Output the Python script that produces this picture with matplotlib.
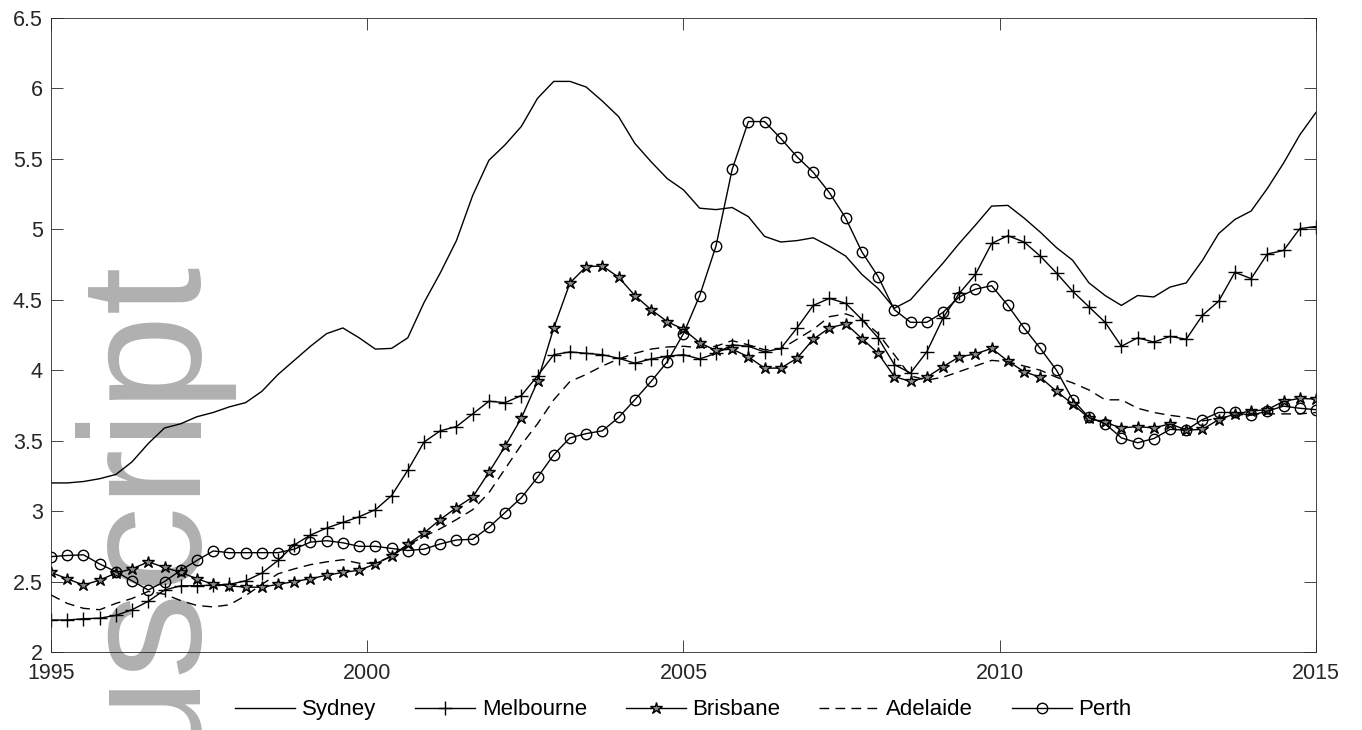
import numpy as np
import matplotlib
matplotlib.use("Agg")
import matplotlib.pyplot as plt

# Price-to-income style ratios by capital city, quarterly 1995-2015
cities = ["Sydney", "Melbourne", "Brisbane", "Adelaide", "Perth"]

sydney = [3.20, 3.20, 3.21, 3.23, 3.26, 3.35, 3.48, 3.59, 3.62, 3.67,
          3.70, 3.74, 3.77, 3.85, 3.97, 4.07, 4.17, 4.26, 4.30, 4.23,
          4.15, 4.155, 4.23, 4.48, 4.69, 4.92, 5.24, 5.49, 5.60, 5.73,
          5.93, 6.05, 6.05, 6.01, 5.91, 5.80, 5.61, 5.48, 5.36, 5.28,
          5.15, 5.14, 5.155, 5.09, 4.95, 4.91, 4.92, 4.94, 4.88, 4.81,
          4.68, 4.58, 4.44, 4.50, 4.63, 4.76, 4.90, 5.03, 5.165, 5.17,
          5.08, 4.98, 4.87, 4.78, 4.62, 4.53, 4.46, 4.53, 4.52, 4.59,
          4.62, 4.78, 4.97, 5.07, 5.13, 5.29, 5.47, 5.67, 5.83]

melbourne = [2.227, 2.227, 2.236, 2.24, 2.26, 2.30, 2.36, 2.44, 2.47, 2.47,
             2.475, 2.48, 2.505, 2.56, 2.65, 2.76, 2.83, 2.88, 2.92, 2.96,
             3.01, 3.11, 3.29, 3.49, 3.57, 3.60, 3.69, 3.78, 3.77, 3.82,
             3.96, 4.11, 4.13, 4.12, 4.11, 4.085, 4.05, 4.08, 4.10, 4.11,
             4.08, 4.12, 4.18, 4.17, 4.13, 4.155, 4.30, 4.46, 4.51, 4.475,
             4.36, 4.23, 4.04, 3.98, 4.13, 4.37, 4.545, 4.68, 4.90, 4.955,
             4.91, 4.81, 4.69, 4.56, 4.45, 4.34, 4.17, 4.23, 4.20, 4.24,
             4.22, 4.39, 4.49, 4.695, 4.65, 4.825, 4.85, 5.005, 5.02]

brisbane = [2.565, 2.52, 2.475, 2.51, 2.56, 2.59, 2.64, 2.60, 2.565, 2.52,
            2.48, 2.47, 2.46, 2.46, 2.48, 2.50, 2.52, 2.545, 2.565, 2.58,
            2.625, 2.68, 2.765, 2.845, 2.94, 3.025, 3.10, 3.275, 3.46, 3.66,
            3.92, 4.30, 4.62, 4.735, 4.74, 4.66, 4.53, 4.43, 4.345, 4.29,
            4.195, 4.14, 4.15, 4.095, 4.015, 4.015, 4.085, 4.22, 4.30, 4.33,
            4.225, 4.12, 3.955, 3.92, 3.95, 4.025, 4.095, 4.115, 4.155, 4.065,
            3.99, 3.95, 3.85, 3.76, 3.66, 3.63, 3.59, 3.60, 3.59, 3.62,
            3.575, 3.58, 3.65, 3.69, 3.71, 3.72, 3.78, 3.80, 3.795]

adelaide = [2.405, 2.345, 2.31, 2.30, 2.345, 2.38, 2.43, 2.41, 2.365, 2.33,
            2.32, 2.335, 2.40, 2.48, 2.555, 2.59, 2.62, 2.64, 2.655, 2.63,
            2.63, 2.68, 2.76, 2.82, 2.875, 2.94, 3.01, 3.13, 3.30, 3.47,
            3.62, 3.79, 3.92, 3.97, 4.03, 4.08, 4.12, 4.15, 4.165, 4.17,
            4.16, 4.17, 4.21, 4.18, 4.145, 4.15, 4.22, 4.29, 4.38, 4.40,
            4.36, 4.26, 4.11, 3.96, 3.93, 3.95, 3.99, 4.03, 4.07, 4.06,
            4.03, 4.00, 3.95, 3.91, 3.86, 3.79, 3.79, 3.73, 3.70, 3.68,
            3.665, 3.64, 3.66, 3.68, 3.69, 3.69, 3.69, 3.69, 3.70]

perth = [2.677, 2.685, 2.69, 2.625, 2.57, 2.505, 2.44, 2.50, 2.58, 2.65,
         2.717, 2.705, 2.705, 2.705, 2.705, 2.73, 2.78, 2.79, 2.775, 2.75,
         2.75, 2.735, 2.72, 2.73, 2.767, 2.795, 2.80, 2.885, 2.99, 3.095,
         3.24, 3.40, 3.52, 3.55, 3.57, 3.665, 3.79, 3.92, 4.06, 4.26,
         4.53, 4.88, 5.425, 5.765, 5.765, 5.645, 5.515, 5.405, 5.26, 5.08,
         4.84, 4.665, 4.43, 4.34, 4.34, 4.41, 4.52, 4.575, 4.60, 4.46,
         4.30, 4.155, 4.00, 3.79, 3.665, 3.62, 3.52, 3.485, 3.515, 3.58,
         3.575, 3.65, 3.70, 3.70, 3.68, 3.71, 3.745, 3.73, 3.72]

x_ticks = [1995, 2000, 2005, 2010, 2015]
y_ticks = [2, 2.5, 3, 3.5, 4, 4.5, 5, 5.5, 6, 6.5]
y_tick_labels = ["2", "2.5", "3", "3.5", "4", "4.5", "5", "5.5", "6", "6.5"]

plt.rcParams["font.family"] = ["Liberation Sans", "DejaVu Sans"]

fig = plt.figure(figsize=(13.62, 7.30), dpi=100)
fig.patch.set_facecolor("white")

ax_left, ax_bottom, ax_w, ax_h = 0.03744, 0.10685, 0.92878, 0.86849
ax = fig.add_axes([ax_left, ax_bottom, ax_w, ax_h])
ax.set_zorder(1)
ax.patch.set_visible(False)

years = np.linspace(x_ticks[0], x_ticks[-1], len(sydney))

lw = 1.0
styles = {
    "Sydney": dict(ls="-", marker=None),
    "Melbourne": dict(ls="-", marker="+", ms=10, mew=1.0),
    "Brisbane": dict(ls="-", marker="*", ms=9.0, mew=1.0, mfc="0.55"),
    "Adelaide": dict(ls=(0, (7, 4.5)), marker=None),
    "Perth": dict(ls="-", marker="o", ms=7.5, mew=1.0, mfc="none"),
}
series = [sydney, melbourne, brisbane, adelaide, perth]

handles = []
for name, vals in zip(cities, series):
    h, = ax.plot(years, vals, color="black", lw=lw, label=name,
                 mec="black", **styles[name])
    handles.append(h)

ax.set_xlim(x_ticks[0], x_ticks[-1])
ax.set_ylim(y_ticks[0], y_ticks[-1])
ax.set_xticks(x_ticks)
ax.set_xticklabels([str(t) for t in x_ticks])
ax.set_yticks(y_ticks)
ax.set_yticklabels(y_tick_labels)

axis_color = "#262626"
ax.tick_params(direction="in", length=8.8, width=0.6, top=True, right=True,
               color=axis_color, labelcolor=axis_color, labelsize=15.5)
ax.tick_params(axis="x", pad=8)
ax.tick_params(axis="y", pad=6)
for sp in ax.spines.values():
    sp.set_color(axis_color)
    sp.set_linewidth(0.6)

fig.legend(handles=handles, loc="center",
           bbox_to_anchor=(ax_left + ax_w / 2, 0.0274),
           ncol=5, frameon=False, fontsize=16, handlelength=2.7,
           handletextpad=0.3, columnspacing=1.75, numpoints=1)

# Gray watermark running up the left side, behind the plot
fig.text(190 / 1362, 1 - 255 / 730, "uscript", rotation=90,
         rotation_mode="anchor", ha="right", va="baseline",
         fontsize=124, color="#b0b0b0", zorder=0)

fig.savefig("out.png", dpi=100, facecolor="white")
